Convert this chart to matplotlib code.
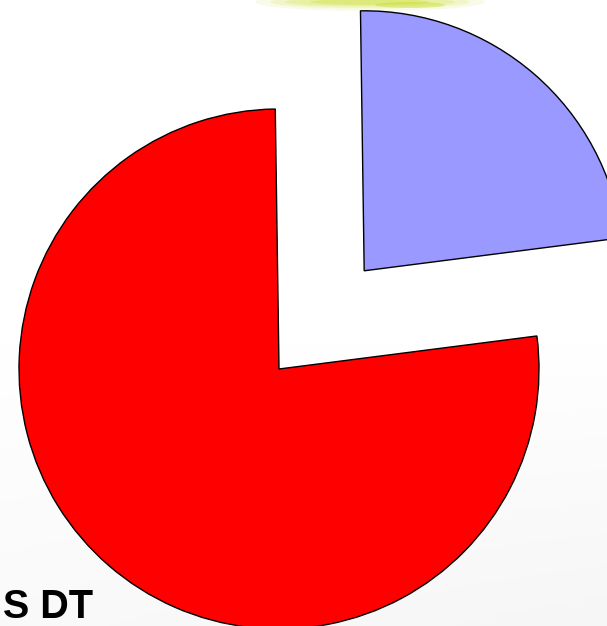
import numpy as np
import matplotlib.pyplot as plt
from matplotlib.patches import Ellipse

# slice shares (percent)
labels = ["B", "A"]
shares = [23.2, 76.8]
colors = ["#9999FF", "#FF0000"]

W, H = 607, 626
R = 260
fig = plt.figure(figsize=(W / 100, H / 100), dpi=100)
ax = fig.add_axes([0, 0, 1, 1])

# faint grey wash toward the bottom of the slide
yy = np.linspace(0, 1, 200)[:, None]
xx = np.linspace(0, 1, 200)[None, :]
shade = 1 - 0.035 * np.clip((0.45 - yy) / 0.45, 0, 1) * (0.6 + 0.4 * xx)
ax.imshow(np.dstack([shade] * 3), extent=(0, W, 0, H), origin="lower",
          aspect="auto", zorder=0)

# yellow-green glow streak at the top edge
for w, h, a in [(230, 18, 0.10), (200, 13, 0.15), (170, 9, 0.22), (120, 6, 0.3)]:
    ax.add_patch(Ellipse((370, H - 2), w, h, color="#c8dc20", alpha=a,
                         lw=0, zorder=1))
ax.add_patch(Ellipse((410, H - 5), 70, 6, color="#c0d818", alpha=0.35,
                     lw=0, zorder=1))

# explode is in data units here, so scale by radius
ax.pie(shares, colors=colors, explode=[0.5 * R, 0], startangle=7.3,
       counterclock=True, center=(279, H - 369), radius=R,
       wedgeprops=dict(edgecolor="black", linewidth=1.0), frame=False)

ax.set_xlim(0, W)
ax.set_ylim(0, H)
ax.set_aspect("auto")
ax.axis("off")

ax.text(3, H - 618, "S DT", fontsize=28.5, fontweight="bold",
        family="Liberation Sans", color="black", ha="left", va="baseline")

fig.savefig("out.png", dpi=100)
